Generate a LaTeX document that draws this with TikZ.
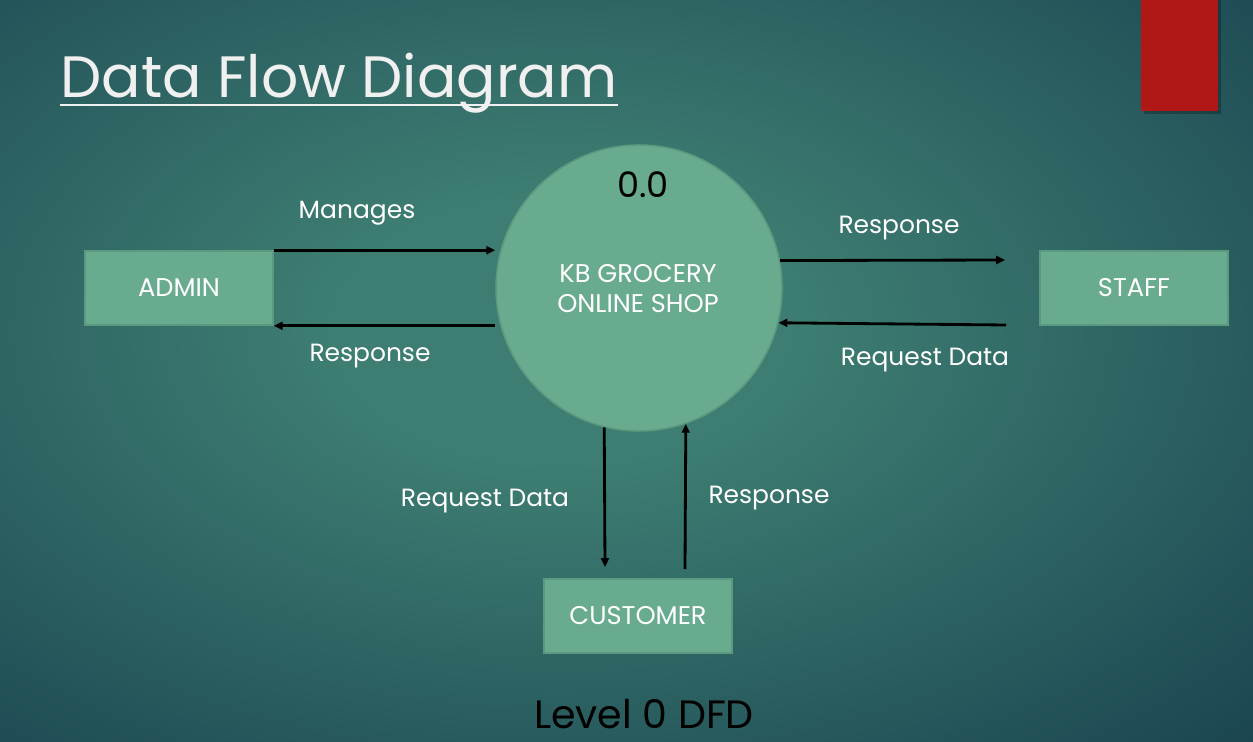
\documentclass[tikz,border=0pt]{standalone}
\usepackage{fontspec}
\setmainfont{Poppins}
\usetikzlibrary{arrows.meta,calc}
\definecolor{bgin}{HTML}{3E7E72}
\definecolor{bgout}{HTML}{17404E}
\definecolor{dfdgreen}{HTML}{69AB8E}
\definecolor{dfdedge}{HTML}{5C9A80}
\definecolor{accent}{HTML}{B01818}
\pgfdeclareradialshading{slideglow}{\pgfpoint{0bp}{0bp}}{color(0bp)=(bgin); color(8bp)=(bgin); color(38bp)=(bgout); color(50bp)=(bgout)}

\begin{document}
\begin{tikzpicture}[x=0.02cm,y=-0.02cm,
    ent/.style={draw=dfdedge,line width=0.9pt,fill=dfdgreen,minimum width=3.76cm,minimum height=1.48cm,text=white,font=\fontsize{14.6}{17}\selectfont},
    proc/.style={circle,draw=dfdedge,line width=0.9pt,fill=dfdgreen,minimum size=5.72cm},
    lbl/.style={text=white,inner sep=0pt,anchor=base,font=\fontsize{14.2}{17}\selectfont},
    flow/.style={line width=1.6pt,-{Triangle[length=5pt,width=4.5pt]}}]
  \useasboundingbox (0,0) rectangle (1253,742);
  \shade[shading=slideglow] (-133,-82) rectangle (1253,742);
  \fill[black,opacity=0.25] (1144,0) rectangle (1221,114);
  \fill[accent] (1141,0) rectangle (1218,111);

  \node[inner sep=0pt,anchor=base west,text=white!94!black,font=\fontsize{33.2}{38}\selectfont] (title) at (60,98) {Data Flow Diagram};
  \draw[white!94!black,line width=1.6pt] ($(title.base west)+(0,7)$) -- ($(title.base east)+(0,7)$);

  \node[proc] (shop) at (639,288) {};
  \node[inner sep=0pt,anchor=base,font=\fontsize{20}{24}\selectfont] (num) at (643,198) {0.0};
  \node[lbl,font=\fontsize{14.6}{17}\selectfont] (shop1) at (638,283) {KB GROCERY};
  \node[lbl,font=\fontsize{14.6}{17}\selectfont] (shop2) at (638,313) {ONLINE SHOP};

  \node[ent] (admin) at (179,288) {ADMIN};
  \node[ent] (staff) at (1134,288) {STAFF};
  \node[ent] (customer) at (638,616) {CUSTOMER};

  \coordinate (sout) at (1005,260);
  \coordinate (sin) at (1006,325);
  \coordinate (cin) at (605,567);
  \coordinate (cout) at (685,569);

  \draw[flow] (admin.north east) -- (admin.north east -| shop.west);
  \draw[flow] (shop.west |- admin.south east) -- (admin.south east);
  \draw[flow] (shop.11) -- (sout);
  \draw[flow] (sin) -- (shop.-14);
  \draw[flow] (shop.-104) -- (cin);
  \draw[flow] (cout) -- (shop.-71);

  \node[lbl] (l1) at (357,219) {Manages};
  \node[lbl] (l2) at (370,362) {Response};
  \node[lbl] (l3) at (899,234) {Response};
  \node[lbl] (l4) at (925,366) {Request Data};
  \node[lbl] (l5) at (485,506) {Request Data};
  \node[lbl] (l6) at (769,503) {Response};

  \node[inner sep=0pt,anchor=base,font=\fontsize{22.5}{26}\selectfont] (level) at (644,728) {Level 0 DFD};
\end{tikzpicture}
\end{document}
